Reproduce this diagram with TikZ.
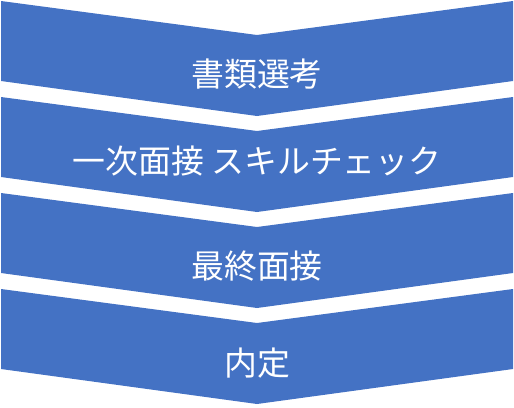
\documentclass[tikz,border=0pt]{standalone}
\usepackage{fontspec}
\newfontfamily\jp{Noto Sans CJK JP}
\definecolor{officeblue}{HTML}{4472C4}
\tikzset{
  chev/.style={fill=officeblue, draw=none},
  lbl/.style={text=white, font=\jp\fontsize{33}{37}\selectfont, inner sep=0pt, anchor=center}
}
\begin{document}
\begin{tikzpicture}[x=1bp,y=-1bp]
\useasboundingbox (0,0) rectangle (514,407);
\foreach \k in {0,1,2,3}{
  \pgfmathsetmacro{\t}{1+96*\k}
  \fill[chev] (1,\t) -- (257,\t+34) -- (513,\t) -- (513,\t+80) -- (257,\t+115) -- (1,\t+80) -- cycle;
}
\node[lbl] (s1) at (257,74) {書類選考};
\node[lbl] (s2) at (257,161) {一次面接 スキルチェック};
\node[lbl] (s3) at (257,266) {最終面接};
\node[lbl] (s4) at (257,363) {内定};
\end{tikzpicture}
\end{document}
